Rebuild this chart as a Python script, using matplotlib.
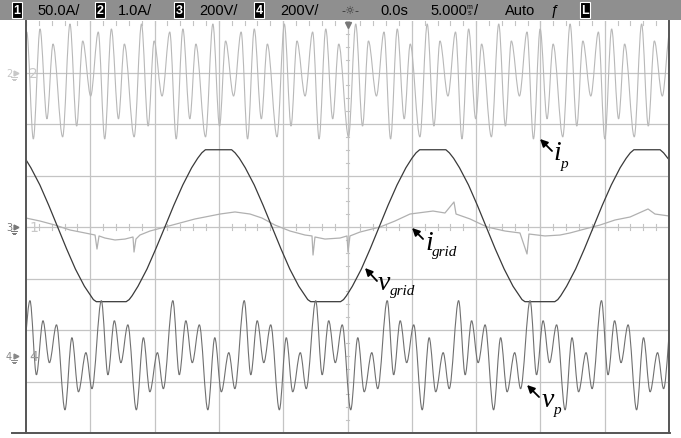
import numpy as np
import matplotlib
matplotlib.use("Agg")
import matplotlib.pyplot as plt
from matplotlib.path import Path
from matplotlib.patches import PathPatch, Rectangle
from matplotlib.lines import Line2D

# ---------------- scope settings ----------------
TIME_PER_DIV = 5.0          # ms / div
CH_SCALE = {1: 50.0, 2: 1.0, 3: 200.0, 4: 200.0}     # units / div
CH_OFFSET = {1: 0.0, 2: 3.0, 3: 0.0, 4: -2.5}        # div

# ---------------- captured data ----------------
# v_grid (CH3): time [ms], voltage [V]
vgrid_t = [-25.0, -24.62, -23.92, -23.23, -22.54, -21.85, -21.16, -20.46, -19.76, -19.53,
           -17.21, -16.98, -16.75, -16.29, -15.59, -14.90, -14.20, -13.51, -12.81, -12.12,
           -11.65, -11.33, -11.05, -9.01, -8.74, -8.41, -7.95, -7.25, -6.56, -5.87,
           -5.18, -4.49, -3.79, -3.09, -2.86, -0.54, -0.31, -0.08, 0.38, 1.08,
           1.77, 2.46, 3.15, 3.85, 4.54, 5.01, 5.33, 5.61, 7.65, 7.92,
           8.25, 8.71, 9.41, 10.10, 10.79, 11.48, 12.18, 12.87, 13.57, 13.80,
           16.12, 16.35, 16.58, 17.04, 17.74, 18.43, 19.12, 19.81, 20.51, 21.20,
           21.67, 21.99, 22.27, 24.31, 24.58, 24.91, 25.0]
vgrid_v = [261, 230, 163, 84, 0, -84, -163, -230, -282, -290,
           -290, -282, -267, -230, -163, -84, 0, 84, 163, 230,
           267, 288, 300, 300, 288, 267, 230, 163, 84, 0,
           -84, -163, -230, -282, -290, -290, -282, -267, -230, -163,
           -84, 0, 84, 163, 230, 267, 288, 300, 300, 288,
           267, 230, 163, 84, 0, -84, -163, -230, -282, -290,
           -290, -282, -267, -230, -163, -84, 0, 84, 163, 230,
           267, 288, 300, 300, 288, 267, 262]

# i_grid (CH1): time [ms], current [A]
igrid_t = [-25.0, -23.91, -22.75, -21.58, -20.41, -19.63, -19.48, -19.32, -18.86, -18.08,
           -17.30, -16.68, -16.60, -16.45, -16.14, -15.36, -14.19, -13.02, -11.86, -11.08,
           -9.91, -8.75, -7.58, -6.65, -5.64, -4.47, -3.30, -2.76, -2.68, -2.53,
           -1.75, -0.58, -0.04, 0.04, 0.19, 0.97, 2.53, 3.69, 4.86, 6.65,
           7.58, 8.28, 8.44, 9.53, 10.85, 12.25, 13.41, 13.96, 14.11, 15.36,
           16.52, 17.30, 18.47, 19.63, 20.80, 21.97, 23.37, 23.91, 25.0]
igrid_a = [8.7, 5.8, 1.9, -2.9, -5.8, -7.8, -21.4, -8.7, -10.7, -12.6,
           -11.7, -9.7, -24.3, -11.7, -7.8, -3.9, 0.0, 3.9, 7.8, 9.7,
           12.6, 14.6, 12.6, 8.7, 1.9, -3.9, -7.8, -8.7, -27.2, -9.7,
           -11.7, -10.7, -8.7, -24.3, -8.7, -4.9, 0.0, 5.8, 12.6, 15.5,
           13.6, 24.3, 12.6, 7.8, 0.0, -3.9, -5.8, -26.2, -6.8, -8.7,
           -7.8, -5.8, -1.9, 1.9, 6.8, 9.7, 17.5, 12.6, 10.7]

# v_p (CH4): turning points, time [ms], voltage [V]
vp_t = [-25.90, -25.43,
        -24.69, -24.19, -23.68, -23.18, -22.63, -21.97, -21.43, -20.92, -20.34, -19.87,
        -19.14, -18.63, -18.13, -17.62, -17.08, -16.42, -15.87, -15.37, -14.78, -14.32,
        -13.58, -13.08, -12.57, -12.07, -11.52, -10.86, -10.32, -9.81, -9.23, -8.76,
        -8.03, -7.52, -7.02, -6.51, -5.97, -5.30, -4.76, -4.26, -3.67, -3.21,
        -2.47, -1.97, -1.46, -0.95, -0.41, 0.25, 0.80, 1.30, 1.89, 2.35,
        3.09, 3.59, 4.10, 4.60, 5.15, 5.81, 6.35, 6.86, 7.44, 7.91,
        8.64, 9.15, 9.65, 10.16, 10.70, 11.36, 11.91, 12.41, 13.00, 13.46,
        14.20, 14.70, 15.21, 15.71, 16.26, 16.92, 17.46, 17.97, 18.55, 19.02,
        19.75, 20.26, 20.77, 21.27, 21.82, 22.48, 23.02, 23.53, 24.11, 24.58,
        25.31]
vp_v = [12, -128,
        214, -74, 136, -27, 120, -210, 70, -140, 12, -128,
        214, -74, 136, -27, 120, -210, 70, -140, 12, -128,
        214, -74, 136, -27, 120, -210, 70, -140, 12, -128,
        214, -74, 136, -27, 120, -210, 70, -140, 12, -128,
        214, -74, 136, -27, 120, -210, 70, -140, 12, -128,
        214, -74, 136, -27, 120, -210, 70, -140, 12, -128,
        214, -74, 136, -27, 120, -210, 70, -140, 12, -128,
        214, -74, 136, -27, 120, -210, 70, -140, 12, -128,
        214, -74, 136, -27, 120, -210, 70, -140, 12, -128,
        214]

# i_p (CH2): turning points, time [ms], current [A]
ip_t = [-26.15, -25.53, -24.94,
        -24.43, -23.91, -23.37, -22.90, -22.15, -21.58, -21.06, -20.59, -19.97, -19.38,
        -18.88, -18.36, -17.81, -17.35, -16.59, -16.02, -15.50, -15.04, -14.42, -13.82,
        -13.32, -12.80, -12.26, -11.79, -11.04, -10.47, -9.95, -9.48, -8.86, -8.27,
        -7.77, -7.25, -6.70, -6.23, -5.48, -4.91, -4.39, -3.93, -3.30, -2.71,
        -2.21, -1.69, -1.15, -0.68, 0.08, 0.64, 1.17, 1.63, 2.25, 2.84,
        3.35, 3.87, 4.41, 4.88, 5.63, 6.20, 6.72, 7.19, 7.81, 8.40,
        8.90, 9.42, 9.97, 10.43, 11.19, 11.76, 12.28, 12.74, 13.37, 13.96,
        14.46, 14.98, 15.52, 15.99, 16.74, 17.31, 17.83, 18.30, 18.92, 19.51,
        20.01, 20.54, 21.08, 21.55, 22.30, 22.87, 23.39, 23.86, 24.48, 25.07]
ip_a = [0.612, -0.456, 0.786,
        -1.29, 0.845, -0.90, 0.553, -1.25, 0.942, -1.04, 0.612, -0.456, 0.786,
        -1.29, 0.845, -0.90, 0.553, -1.25, 0.942, -1.04, 0.612, -0.456, 0.786,
        -1.29, 0.845, -0.90, 0.553, -1.25, 0.942, -1.04, 0.612, -0.456, 0.786,
        -1.29, 0.845, -0.90, 0.553, -1.25, 0.942, -1.04, 0.612, -0.456, 0.786,
        -1.29, 0.845, -0.90, 0.553, -1.25, 0.942, -1.04, 0.612, -0.456, 0.786,
        -1.29, 0.845, -0.90, 0.553, -1.25, 0.942, -1.04, 0.612, -0.456, 0.786,
        -1.29, 0.845, -0.90, 0.553, -1.25, 0.942, -1.04, 0.612, -0.456, 0.786,
        -1.29, 0.845, -0.90, 0.553, -1.25, 0.942, -1.04, 0.612, -0.456, 0.786,
        -1.29, 0.845, -0.90, 0.553, -1.25, 0.942, -1.04, 0.612, -0.456, 0.786]

W, H = 681, 439
fig = plt.figure(figsize=(W / 100, H / 100), dpi=100)
fig.patch.set_facecolor("white")
ax = fig.add_axes([26 / W, 5 / H, 643 / W, 412 / H])
ax.set_xlim(-25, 25)
ax.set_ylim(-4, 4)
ax.axis("off")


def to_div(vals, ch):
    return np.asarray(vals, float) / CH_SCALE[ch] + CH_OFFSET[ch]


def smooth_trace(t, y, color, lw, z):
    """Draw a trace through its turning points with flat tangents at each one."""
    verts = [(t[0], y[0])]
    codes = [Path.MOVETO]
    for i in range(1, len(t)):
        d = (t[i] - t[i - 1]) / 3.0
        verts += [(t[i - 1] + d, y[i - 1]), (t[i] - d, y[i]), (t[i], y[i])]
        codes += [Path.CURVE4] * 3
    ax.add_patch(PathPatch(Path(verts, codes), fill=False, edgecolor=color,
                           lw=lw, zorder=z))


# ---------------- graticule ----------------
grid_c = "#c4c4c4"
for k in range(-4, 5):
    ax.axvline(k * TIME_PER_DIV, color=grid_c, lw=0.9, zorder=1)
for k in range(-3, 4):
    ax.axhline(k, color=grid_c, lw=0.9, zorder=1)
for m in np.arange(-25, 25.01, 1.0):
    ax.plot([m, m], [-0.05, 0.05], color=grid_c, lw=0.8, zorder=1)
    ax.plot([m, m], [3.93, 4.0], color=grid_c, lw=0.8, zorder=1)
for m in np.arange(-4, 4.01, 0.25):
    ax.plot([-0.08, 0.08], [m, m], color=grid_c, lw=0.8, zorder=1)

# borders
fig.add_artist(Line2D([26 / W, 26 / W], [5 / H, 1 - 22 / H], color="#555555", lw=1.4))
fig.add_artist(Line2D([669 / W, 669 / W], [5 / H, 1 - 22 / H], color="#555555", lw=1.4))
fig.add_artist(Line2D([12 / W, 669.5 / W], [5 / H, 5 / H], color="#555555", lw=1.4))

# ---------------- traces ----------------
smooth_trace(ip_t, to_div(ip_a, 2), "#b8b8b8", 0.8, 3)
ax.plot(igrid_t, to_div(igrid_a, 1), color="#b0b0b0", lw=0.9, zorder=4)
ax.plot(vgrid_t, to_div(vgrid_v, 3), color="#3a3a3a", lw=0.9, zorder=5)
smooth_trace(vp_t, to_div(vp_v, 4), "#707070", 0.8, 6)

# trigger position marker
ax.plot([0], [3.93], marker="v", color="#777777", ms=4, zorder=7, clip_on=False)

# ---------------- channel markers on the left ----------------
def px(x, y):
    return x / W, 1 - y / H


def ch_marker(y, num, col, tag, tagcol):
    fig.text(*px(6, y), str(num), color=col, fontsize=7, ha="left", va="center",
             family="DejaVu Sans")
    fig.add_artist(Line2D([px(16, y)[0]], [px(16, y)[1]], marker=">", color=col, ms=3.5))
    gx = 14
    for i, hw in enumerate([3.0, 2.0, 1.0]):
        yy = y + 4 + 1.5 * i
        fig.add_artist(Line2D([px(gx - hw, yy)[0], px(gx + hw, yy)[0]],
                              [px(0, yy)[1], px(0, yy)[1]], color=col, lw=0.7))
    fig.text(*px(29, y), tag, color=tagcol, fontsize=10, ha="left", va="center",
             family="DejaVu Sans")


ch_marker(74, 2, "#c8c8c8", "2", "#c8c8c8")
ch_marker(228, 3, "#777777", "1", "#c8c8c8")
ch_marker(357, 4, "#888888", "4", "#999999")

# ---------------- annotations ----------------
def label(tip_t, tip_div, dxy, main, sub, main_off, sub_off):
    ax.annotate("", xy=(tip_t, tip_div), xytext=dxy, textcoords="offset pixels",
                arrowprops=dict(arrowstyle="-|>", color="black", lw=1.3,
                                mutation_scale=11, shrinkA=0, shrinkB=0), zorder=10)
    ax.annotate(main, xy=(tip_t, tip_div), xytext=main_off, textcoords="offset pixels",
                fontsize=20, family="Liberation Serif", style="italic",
                ha="left", va="baseline", zorder=10)
    ax.annotate(sub, xy=(tip_t, tip_div), xytext=sub_off, textcoords="offset pixels",
                fontsize=11, family="Liberation Serif", style="italic",
                ha="left", va="baseline", zorder=10)


label(14.97, 1.709, (12, -12), "i", "p", (13, -20), (21, -28))
label(5.02, -0.019, (11, -11), "i", "grid", (13, -21), (20, -27))
label(1.36, -0.796, (12, -13), "v", "grid", (13, -21), (25, -26))
label(13.96, -3.068, (12, -12), "v", "p", (15, -21), (27, -28))

# ---------------- status bar ----------------
fig.add_artist(Rectangle(px(0, 20.5), 1, 20.5 / H, transform=fig.transFigure,
                         facecolor="#8f8f8f", edgecolor="none", zorder=0))


def chan_box(x0, txt):
    fig.add_artist(Rectangle(px(x0, 18.5), 10 / W, 16 / H, transform=fig.transFigure,
                             facecolor="black", edgecolor="white", lw=0.8, zorder=2))
    fig.text(*px(x0 + 5, 10.8), txt, color="white", fontsize=9, ha="center",
             va="center", family="Liberation Sans", weight="bold", zorder=3)


bar_font = dict(fontsize=10.5, color="black", va="center", ha="left",
                family="Liberation Sans")
chan_box(12, "1")
fig.text(*px(37, 10.8), "50.0A/", **bar_font)
chan_box(95, "2")
fig.text(*px(118, 10.8), "1.0A/", **bar_font)
chan_box(174, "3")
fig.text(*px(199, 10.8), "200V/", **bar_font)
chan_box(254, "4")
fig.text(*px(280, 10.8), "200V/", **bar_font)
fig.text(*px(350, 10.5), "-☼-", fontsize=8, color="#333333", ha="center", va="center",
         family="DejaVu Sans")
fig.text(*px(380, 10.8), "0.0s", **bar_font)
fig.text(*px(430, 10.8), "5.000", **bar_font)
fig.text(*px(467, 7.5), "m", fontsize=5, color="black", ha="left", va="center",
         family="Liberation Sans")
fig.text(*px(468, 13.5), "s", fontsize=5, color="black", ha="left", va="center",
         family="Liberation Sans")
fig.text(*px(474, 10.8), "/", **bar_font)
fig.text(*px(505, 10.8), "Auto", **bar_font)
fig.text(*px(551, 10.8), "ƒ", **bar_font)
chan_box(580, "L")

fig.savefig("out.png", dpi=100)
